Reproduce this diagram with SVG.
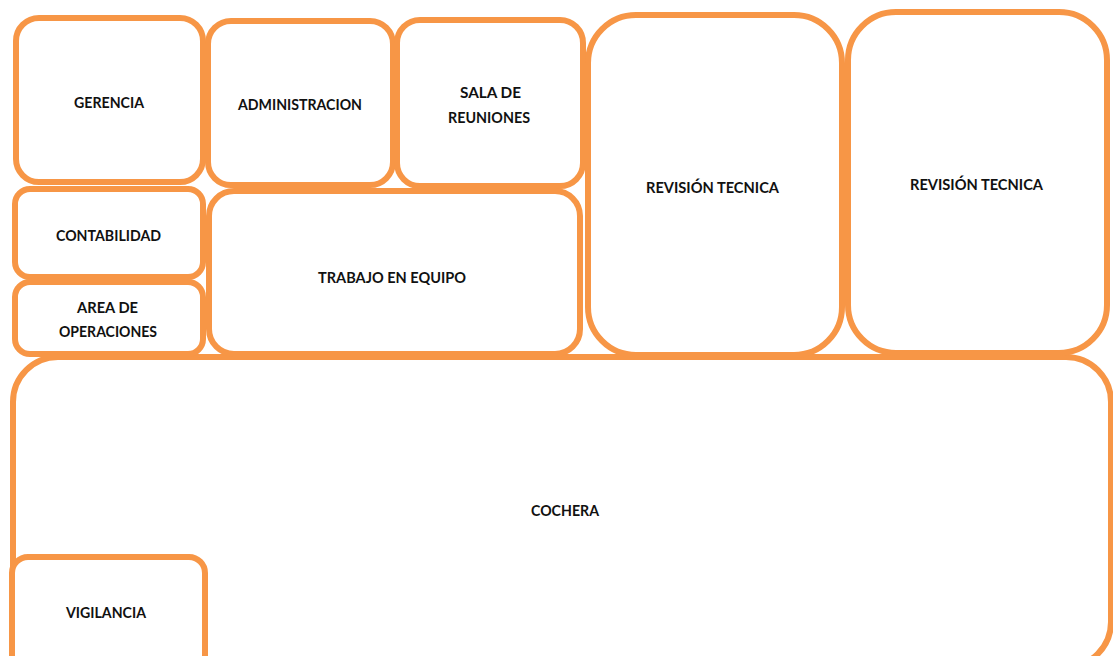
<svg xmlns="http://www.w3.org/2000/svg" width="1113" height="656" viewBox="0 0 1113 656">
<style>
.room{fill:#fff;stroke:#F79646;stroke-width:6}
.lbl{font-family:Lato,"Liberation Sans",sans-serif;font-weight:bold;font-size:15px;fill:#111;text-anchor:middle}
</style>
<rect width="1113" height="656" fill="#fff"/>
<g id="cochera"><rect class="room" x="13" y="357" width="1098" height="310" rx="45"/><text class="lbl" x="565" y="516" textLength="68" lengthAdjust="spacingAndGlyphs">COCHERA</text></g>
<g id="vigilancia"><rect class="room" x="12" y="557" width="193" height="120" rx="16"/><text class="lbl" x="106" y="618" textLength="80" lengthAdjust="spacingAndGlyphs">VIGILANCIA</text></g>
<g id="gerencia"><rect class="room" x="16" y="18" width="187" height="164" rx="23"/><text class="lbl" x="109" y="108" textLength="70" lengthAdjust="spacingAndGlyphs">GERENCIA</text></g>
<g id="administracion"><rect class="room" x="208" y="21" width="185" height="164" rx="23"/><text class="lbl" x="300" y="110" textLength="124" lengthAdjust="spacingAndGlyphs">ADMINISTRACION</text></g>
<g id="sala"><rect class="room" x="397" y="20" width="186" height="166" rx="23"/><text class="lbl" x="490.5" y="98" textLength="61" lengthAdjust="spacingAndGlyphs">SALA DE</text><text class="lbl" x="489" y="123" textLength="82" lengthAdjust="spacingAndGlyphs">REUNIONES</text></g>
<g id="revision1"><rect class="room" x="588" y="15" width="254" height="340" rx="48"/><text class="lbl" x="712.5" y="193" textLength="133" lengthAdjust="spacingAndGlyphs">REVISIÓN TECNICA</text></g>
<g id="revision2"><rect class="room" x="848" y="12" width="259" height="341" rx="48"/><text class="lbl" x="976.5" y="190" textLength="133" lengthAdjust="spacingAndGlyphs">REVISIÓN TECNICA</text></g>
<g id="contabilidad"><rect class="room" x="15" y="189" width="188" height="88" rx="15"/><text class="lbl" x="108.5" y="241" textLength="105" lengthAdjust="spacingAndGlyphs">CONTABILIDAD</text></g>
<g id="operaciones"><rect class="room" x="15" y="282" width="188" height="72" rx="15"/><text class="lbl" x="107.5" y="313" textLength="61" lengthAdjust="spacingAndGlyphs">AREA DE</text><text class="lbl" x="108" y="337" textLength="98" lengthAdjust="spacingAndGlyphs">OPERACIONES</text></g>
<g id="trabajo"><rect class="room" x="209" y="191" width="371" height="163" rx="25"/><text class="lbl" x="392" y="283" textLength="148" lengthAdjust="spacingAndGlyphs">TRABAJO EN EQUIPO</text></g>
<g id="connectors"></g>
</svg>
